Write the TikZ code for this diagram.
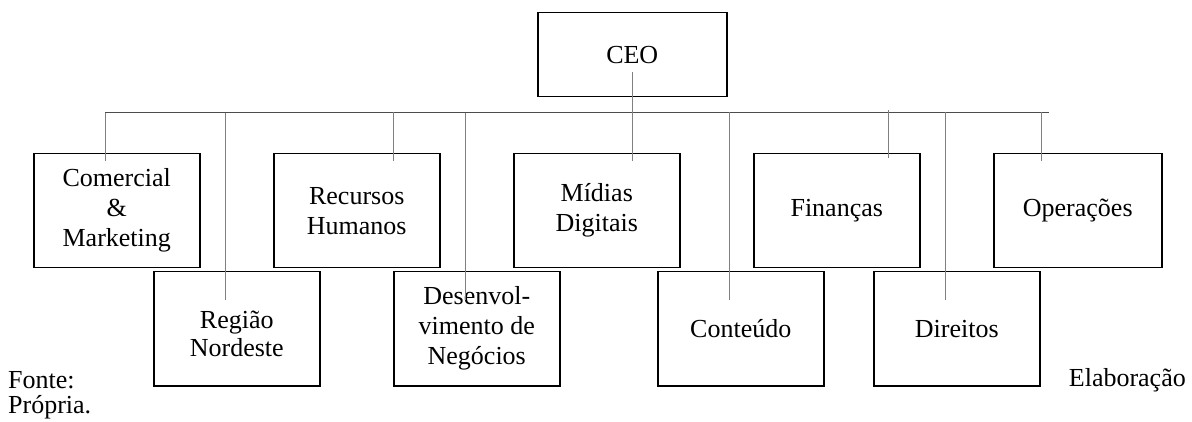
\documentclass[tikz,border=0pt]{standalone}
\usepackage{fontspec}
\setmainfont{Liberation Serif}
\usetikzlibrary{calc}
\begin{document}
\begin{tikzpicture}[x=1pt,y=-1pt,
  box/.style={draw=black, line width=1.5pt, minimum width=166pt, minimum height=114pt, inner sep=0pt, align=center, anchor=north west, font=\fontsize{26}{30}\selectfont},
  conn/.style={draw=black!50, line width=1pt},
  bus/.style={draw=black!70, line width=1pt},
  lbl/.style={inner sep=0pt, font=\fontsize{26}{30}\selectfont}]
\useasboundingbox (0,0) rectangle (1192,422);
% boxes
\node[box, minimum width=189pt, minimum height=84pt] (ceo) at (537,12) {CEO};
\node[box] (com) at (33,153) {Comercial\\\&\\Marketing};
\node[box] (rh) at (273,153) {Recursos\\Humanos};
\node[box] (md) at (513,153) {Mídias\\Digitais};
\node[box] (fin) at (753,153) {Finanças};
\node[box, minimum width=168pt] (op) at (993,153) {Operações};
\node[box] (reg) at (153,271) {};
\node[lbl, align=center, font=\fontsize{26}{28}\selectfont] (regtxt) at ($(reg.center)+(0,5)$) {Região\\Nordeste};
\node[box] (dev) at (393,271) {Desenvol-\\vimento de\\Negócios};
\node[box] (cont) at (657,271) {Conteúdo};
\node[box] (dir) at (873,271) {Direitos};
% bus
\coordinate (busL) at (105,113);
\coordinate (busR) at (1049,113);
\draw[bus] (busL) -- (busR);
% taps
\coordinate (tCom) at (105,113);
\coordinate (tReg) at (225,113);
\coordinate (tRh) at (393,112);
\coordinate (tDev) at (465,113);
\coordinate (tCont) at (729,112);
\coordinate (tFin) at (888,110);
\coordinate (tDir) at (945,112);
\coordinate (tOp) at (1041,112);
\coordinate (tMd) at (632,72);
\draw[conn] (tCom) -- ($(tCom |- com.north)+(0,8)$);
\draw[conn] (tRh) -- ($(tRh |- rh.north)+(0,8)$);
\draw[conn] (tMd) -- ($(tMd |- md.north)+(0,8)$);
\draw[conn] (tFin) -- ($(tFin |- fin.north)+(0,5)$);
\draw[conn] (tOp) -- ($(tOp |- op.north)+(0,8)$);
\draw[conn] (tReg) -- ($(tReg |- reg.north)+(0,29)$);
\draw[conn] (tDev) -- ($(tDev |- dev.north)+(0,29)$);
\draw[conn] (tCont) -- ($(tCont |- cont.north)+(0,29)$);
\draw[conn] (tDir) -- ($(tDir |- dir.north)+(0,29)$);
% caption
\node[lbl, anchor=west] (fonte) at (8,380) {Fonte:};
\node[lbl, anchor=west] (propria) at (8,407) {Própria.};
\node[lbl, anchor=east] (elab) at (1186,380) {Elaboração};
\end{tikzpicture}
\end{document}
